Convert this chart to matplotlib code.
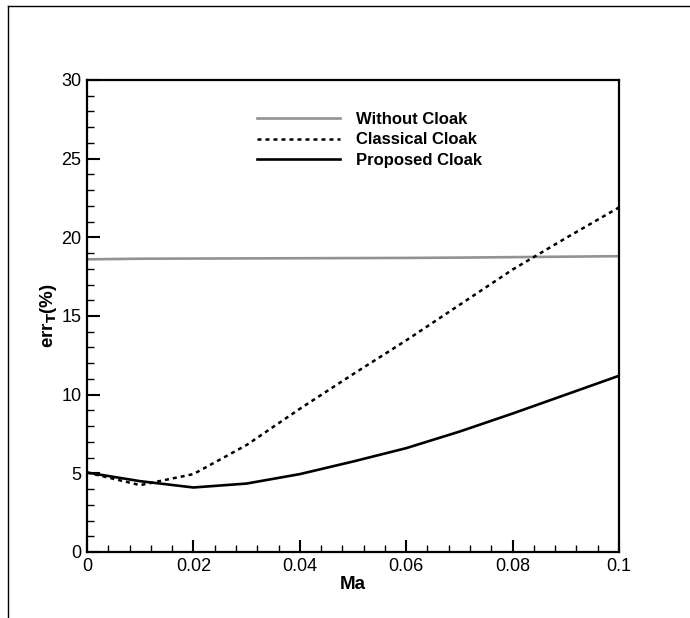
import matplotlib
matplotlib.use("Agg")
import matplotlib.pyplot as plt
from matplotlib.lines import Line2D
from matplotlib.ticker import MultipleLocator, FixedLocator

plt.rcParams['font.family'] = ['Liberation Sans', 'DejaVu Sans']

# Mach number samples
ma = [0.0, 0.01, 0.02, 0.03, 0.04, 0.05, 0.06, 0.07, 0.08, 0.09, 0.10]

# Temperature error (%) for each configuration
err_without = [18.60, 18.64, 18.65, 18.66, 18.67, 18.68, 18.69, 18.71, 18.74, 18.77, 18.80]
err_classical = [5.05, 4.25, 4.95, 6.80, 9.10, 11.30, 13.45, 15.70, 17.95, 19.95, 21.90]
err_proposed = [5.05, 4.50, 4.10, 4.35, 4.95, 5.75, 6.60, 7.65, 8.80, 10.00, 11.20]

labels = ["Without Cloak", "Classical Cloak", "Proposed Cloak"]
x_ticks = [0, 0.02, 0.04, 0.06, 0.08, 0.1]
x_tick_labels = ["0", "0.02", "0.04", "0.06", "0.08", "0.1"]
y_ticks = [0, 5, 10, 15, 20, 25, 30]

fig = plt.figure(figsize=(6.9, 6.18), dpi=100)
ax = fig.add_axes([0.1261, 0.1068, 0.771, 0.7638])

ax.plot(ma, err_without, color='#929292', lw=1.9, label=labels[0])
ax.plot(ma, err_classical, color='black', lw=1.8, ls=(0, (1.6, 1.6)), label=labels[1])
ax.plot(ma, err_proposed, color='black', lw=1.9, label=labels[2])

ax.set_xlim(0, 0.1)
ax.set_ylim(0, 30)
ax.xaxis.set_major_locator(FixedLocator(x_ticks))
ax.set_xticklabels(x_tick_labels)
ax.xaxis.set_minor_locator(MultipleLocator(0.004))
ax.yaxis.set_major_locator(FixedLocator(y_ticks))
ax.yaxis.set_minor_locator(MultipleLocator(1))

ax.tick_params(which='both', direction='in', top=False, right=False,
               labelsize=13, width=1.5, pad=4)
ax.tick_params(which='major', length=9)
ax.tick_params(which='minor', length=5, width=1.0)
for s in ax.spines.values():
    s.set_linewidth(1.6)

ax.set_xlabel("Ma", fontsize=13.5, fontweight='bold', labelpad=1)
ax.set_ylabel(r"err$_\mathbf{T}$(%)", fontsize=13.5, fontweight='bold', labelpad=2)

leg = ax.legend(loc='upper left', bbox_to_anchor=(0.3075, 0.947), frameon=False,
                handlelength=4.95, handletextpad=1.0, labelspacing=0.35,
                borderaxespad=0.0,
                prop={'weight': 'bold', 'size': 12})

# outer frame lines
fig.add_artist(Line2D([8 / 690, 8 / 690], [0, 1 - 6 / 618], color='black', lw=1.0,
                      transform=fig.transFigure))
fig.add_artist(Line2D([8 / 690, 1], [1 - 6 / 618, 1 - 6 / 618], color='black', lw=1.0,
                      transform=fig.transFigure))

fig.savefig("out.png", dpi=100)
